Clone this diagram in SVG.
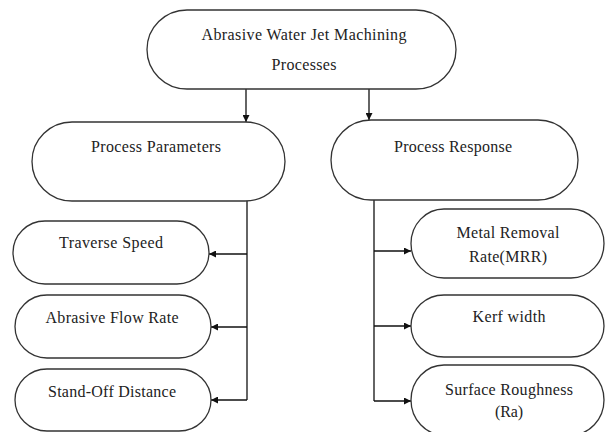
<svg xmlns="http://www.w3.org/2000/svg" width="605" height="432" viewBox="0 0 605 432">
<style>
.box{fill:#fff;stroke:#333;stroke-width:1.3}
.t{font-size:16px;fill:#222;text-anchor:middle}
.c{fill:none;stroke:#111;stroke-width:1.3}
</style>
<defs>
<marker id="ah" viewBox="0 0 10 10" refX="10" refY="5" markerWidth="8" markerHeight="7" markerUnits="userSpaceOnUse" orient="auto">
<path d="M0,0 L10,5 L0,10 z" fill="#111"/>
</marker>
</defs>
<rect width="605" height="432" fill="#fff"/>
<g id="connectors">
<line class="c" x1="246" y1="89" x2="246" y2="122" marker-end="url(#ah)"/>
<line class="c" x1="369" y1="89" x2="369" y2="120" marker-end="url(#ah)"/>
<polyline class="c" points="247,201 247,400"/>
<line class="c" x1="247" y1="254" x2="209" y2="254" marker-end="url(#ah)"/>
<line class="c" x1="247" y1="327" x2="211" y2="327" marker-end="url(#ah)"/>
<line class="c" x1="247" y1="400" x2="211" y2="400" marker-end="url(#ah)"/>
<polyline class="c" points="374,200 374,401"/>
<line class="c" x1="374" y1="251" x2="411" y2="251" marker-end="url(#ah)"/>
<line class="c" x1="374" y1="326" x2="411" y2="326" marker-end="url(#ah)"/>
<line class="c" x1="374" y1="401" x2="411" y2="401" marker-end="url(#ah)"/>
</g>
<g font-family="Liberation Serif, Times New Roman, serif">
<g id="root">
<rect class="box" x="147" y="10" width="309" height="79" rx="40" ry="39.5"/>
<text class="t" x="304" y="40" textLength="205" lengthAdjust="spacing">Abrasive Water Jet Machining</text>
<text class="t" x="304" y="70" textLength="65" lengthAdjust="spacing">Processes</text>
</g>
<g id="params">
<rect class="box" x="32" y="122" width="253" height="79" rx="40" ry="39.5"/>
<text class="t" x="156" y="152" textLength="130" lengthAdjust="spacing">Process Parameters</text>
</g>
<g id="response">
<rect class="box" x="331" y="120" width="247" height="80" rx="40" ry="40"/>
<text class="t" x="453" y="152" textLength="118" lengthAdjust="spacing">Process Response</text>
</g>
<g id="traverse">
<rect class="box" x="13" y="221" width="196" height="63" rx="32" ry="31.5"/>
<text class="t" x="111" y="248" textLength="104" lengthAdjust="spacing">Traverse Speed</text>
</g>
<g id="flow">
<rect class="box" x="15" y="295" width="196" height="63" rx="32" ry="31.5"/>
<text class="t" x="112" y="323" textLength="133" lengthAdjust="spacing">Abrasive Flow Rate</text>
</g>
<g id="standoff">
<rect class="box" x="15" y="369" width="196" height="62" rx="32" ry="31"/>
<text class="t" x="112" y="397" textLength="128" lengthAdjust="spacing">Stand-Off Distance</text>
</g>
<g id="mrr">
<rect class="box" x="411" y="209" width="193" height="69" rx="33" ry="34.5"/>
<text class="t" x="508" y="238" textLength="103" lengthAdjust="spacing">Metal Removal</text>
<text class="t" x="508" y="262" textLength="78" lengthAdjust="spacing">Rate(MRR)</text>
</g>
<g id="kerf">
<rect class="box" x="411" y="295" width="193" height="62" rx="33" ry="31"/>
<text class="t" x="509" y="322" textLength="73" lengthAdjust="spacing">Kerf width</text>
</g>
<g id="roughness">
<rect class="box" x="411" y="365" width="193" height="70" rx="33" ry="35"/>
<text class="t" x="509" y="395" textLength="128" lengthAdjust="spacing">Surface Roughness</text>
<text class="t" x="509" y="417" textLength="28" lengthAdjust="spacing">(Ra)</text>
</g>
</g>
</svg>
